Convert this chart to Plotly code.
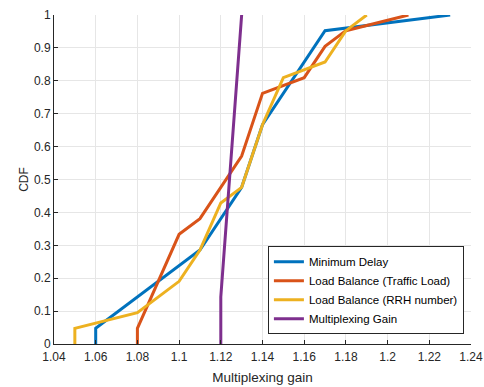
import plotly.graph_objects as go

# Empirical CDF points of the multiplexing gain for each placement strategy
min_delay_x = [1.06, 1.06, 1.11, 1.13, 1.14, 1.17, 1.23]
min_delay_y = [0, 1/21, 6/21, 10/21, 14/21, 20/21, 1.0]

lb_traffic_x = [1.08, 1.08, 1.10, 1.11, 1.13, 1.14, 1.16, 1.17, 1.18, 1.21]
lb_traffic_y = [0, 1/21, 7/21, 8/21, 12/21, 16/21, 17/21, 19/21, 20/21, 1.0]

lb_rrh_x = [1.05, 1.05, 1.08, 1.10, 1.11, 1.12, 1.13, 1.14, 1.15, 1.17, 1.18, 1.19]
lb_rrh_y = [0, 1/21, 2/21, 4/21, 6/21, 9/21, 10/21, 14/21, 17/21, 18/21, 20/21, 1.0]

mux_gain_x = [1.12, 1.12, 1.13]
mux_gain_y = [0, 3/21, 1.0]

series_names = ["Minimum Delay", "Load Balance (Traffic Load)",
                "Load Balance (RRH number)", "Multiplexing Gain"]
series_colors = ["#0072BD", "#D95319", "#EDB120", "#7E2F8E"]

x_ticks = [1.04, 1.06, 1.08, 1.10, 1.12, 1.14, 1.16, 1.18, 1.20, 1.22, 1.24]
x_tick_labels = ["1.04", "1.06", "1.08", "1.1", "1.12", "1.14", "1.16",
                 "1.18", "1.2", "1.22", "1.24"]
y_ticks = [0, 0.1, 0.2, 0.3, 0.4, 0.5, 0.6, 0.7, 0.8, 0.9, 1.0]
y_tick_labels = ["0", "0.1", "0.2", "0.3", "0.4", "0.5", "0.6", "0.7",
                 "0.8", "0.9", "1"]

fig = go.Figure()
for xs, ys, name, color in zip(
        [min_delay_x, lb_traffic_x, lb_rrh_x, mux_gain_x],
        [min_delay_y, lb_traffic_y, lb_rrh_y, mux_gain_y],
        series_names, series_colors):
    fig.add_trace(go.Scatter(x=xs, y=ys, mode="lines", name=name,
                             line=dict(color=color, width=3)))

font_family = "Liberation Sans, Arial, sans-serif"
axis_color = "#262626"
grid_color = "#e6e6e6"

fig.update_layout(
    width=484, height=387,
    margin=dict(l=54, r=13, t=15, b=43),
    paper_bgcolor="white", plot_bgcolor="white",
    font=dict(family=font_family, size=12, color=axis_color),
    showlegend=True,
    legend=dict(
        x=0.983, y=0.03, xanchor="right", yanchor="bottom",
        bgcolor="white", bordercolor=axis_color, borderwidth=1,
        font=dict(size=11.5, color="#000000"),
        tracegroupgap=0, itemwidth=30,
    ),
    xaxis=dict(
        range=[1.04, 1.24], tickvals=x_ticks, ticktext=x_tick_labels,
        showgrid=True, gridcolor=grid_color, gridwidth=1,
        showline=True, linecolor=axis_color, linewidth=1,
        ticks="inside", ticklen=4, tickcolor=axis_color,
        ticklabelstandoff=2,
        zeroline=False, mirror=False, automargin=False,
        title=dict(text="Multiplexing gain", standoff=9,
                   font=dict(size=13.5, color=axis_color)),
    ),
    yaxis=dict(
        range=[0, 1], tickvals=y_ticks, ticktext=y_tick_labels,
        showgrid=True, gridcolor=grid_color, gridwidth=1,
        showline=True, linecolor=axis_color, linewidth=1,
        ticks="inside", ticklen=4, tickcolor=axis_color,
        zeroline=False, mirror=False, automargin=False,
        title=dict(text="CDF", standoff=2,
                   font=dict(size=12, color=axis_color)),
    ),
)

fig.write_html("out.html")
